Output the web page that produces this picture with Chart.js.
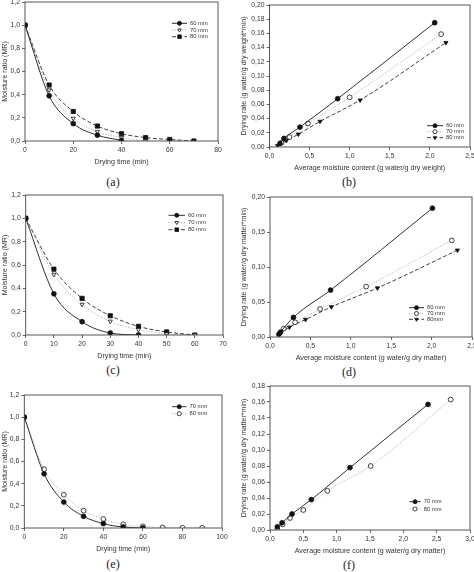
<!DOCTYPE html>
<html>
<head>
<meta charset="utf-8">
<script src="https://cdn.jsdelivr.net/npm/chart.js@4.4.1/dist/chart.umd.min.js"></script>
<style>
  html, body { margin: 0; padding: 0; background: #fff; width: 474px; height: 572px; overflow: hidden; position: relative; }
  canvas { position: absolute; }
  .cap { position: absolute; font: 12px "Liberation Serif", serif; color: #222; transform: translate(-50%, -50%); }
</style>
</head>
<body>
<div class="cap" style="left:113px;top:182px">(a)</div>
<div class="cap" style="left:349px;top:182px">(b)</div>
<div class="cap" style="left:113px;top:370px">(c)</div>
<div class="cap" style="left:349px;top:372px">(d)</div>
<div class="cap" style="left:113px;top:564px">(e)</div>
<div class="cap" style="left:349px;top:565px">(f)</div>
<script>
"use strict";
// (a) moisture ratio vs drying time
const timeA = [0, 10, 20, 30, 40, 50, 60, 70];
const mrA60 = [1.0, 0.39, 0.15, 0.05, 0.005];
const mrA70 = [1.0, 0.44, 0.195, 0.08, 0.03, 0.0];
const mrA80 = [1.0, 0.483, 0.255, 0.129, 0.063, 0.029, 0.013, 0.0];

// (c)
const timeC = [0, 10, 20, 30, 40, 50, 60];
const mrC60 = [1.0, 0.353, 0.114, 0.017, 0.0];
const mrC70 = [1.0, 0.519, 0.262, 0.117, 0.046, 0.009, 0.0];
const mrC80 = [1.0, 0.564, 0.314, 0.165, 0.074, 0.026, 0.0];

// (e)
const timeE = [0, 10, 20, 30, 40, 50, 60, 70, 80, 90];
const mrE70 = [1.0, 0.489, 0.234, 0.105, 0.039, 0.009, 0.0];
const mrE80 = [1.0, 0.53, 0.30, 0.156, 0.081, 0.033, 0.015, 0.005, 0.002, 0.002];

// (b) drying rate vs average moisture content
const mcB60 = [0.13, 0.18, 0.38, 0.85, 2.06];
const rateB60 = [0.005, 0.012, 0.028, 0.068, 0.175];
const mcB70 = [0.15, 0.25, 0.48, 1.0, 2.14];
const rateB70 = [0.006, 0.014, 0.033, 0.070, 0.159];
const mcB80 = [0.10, 0.21, 0.36, 0.63, 1.13, 2.20];
const rateB80 = [0.002, 0.009, 0.018, 0.036, 0.066, 0.147];

// (d)
const mcD60 = [0.11, 0.13, 0.29, 0.75, 2.01];
const rateD60 = [0.004, 0.007, 0.028, 0.067, 0.184];
const mcD70 = [0.17, 0.31, 0.62, 1.19, 2.25];
const rateD70 = [0.012, 0.021, 0.040, 0.072, 0.138];
const mcD80 = [0.13, 0.24, 0.44, 0.76, 1.33, 2.32];
const rateD80 = [0.005, 0.014, 0.025, 0.043, 0.070, 0.124];

// (f)
const mcF70 = [0.11, 0.18, 0.33, 0.62, 1.20, 2.37];
const rateF70 = [0.004, 0.009, 0.020, 0.038, 0.078, 0.157];
const mcF80 = [0.11, 0.19, 0.30, 0.50, 0.86, 1.51, 2.71];
const rateF80 = [0.001, 0.007, 0.015, 0.025, 0.049, 0.080, 0.163];

// tick labels
const ticksTimeA = [0, 20, 40, 60, 80];
const ticksTimeC = [0, 10, 20, 30, 40, 50, 60, 70];
const ticksTimeE = [0, 20, 40, 60, 80, 100];
const ticksMR = [0, 0.2, 0.4, 0.6, 0.8, 1.0, 1.2];
const ticksMC25 = [0, 0.5, 1.0, 1.5, 2.0, 2.5];
const ticksMC30 = [0, 0.5, 1.0, 1.5, 2.0, 2.5, 3.0];
const ticksRateB = [0, 0.02, 0.04, 0.06, 0.08, 0.10, 0.12, 0.14, 0.16, 0.18, 0.20];
const ticksRateD = [0, 0.05, 0.10, 0.15, 0.20];
const ticksRateF = [0, 0.02, 0.04, 0.06, 0.08, 0.10, 0.12, 0.14, 0.16, 0.18];

const FONT = "'Liberation Sans', Arial, sans-serif";
const INK = "#333";

// line looks
const SOLID = { color: "#1a1a1a", dash: [] };
const DOT = { color: "#a0a0a0", dash: [1, 1.6] };
const DASH = { color: "#2a2a2a", dash: [4, 2.2] };

function pts(xs, ys) {
  return ys.map((y, i) => ({ x: xs[i], y: y }));
}

function series(label, data, line, marker, filled) {
  const r = marker === "rect" ? 3 : 2.4;
  return {
    label: label,
    data: data,
    showLine: true,
    borderColor: line.color,
    borderDash: line.dash,
    borderWidth: 0.9,
    cubicInterpolationMode: "monotone",
    pointStyle: marker === "down" ? "triangle" : marker,
    rotation: marker === "down" ? 180 : 0,
    pointRadius: r,
    pointBorderWidth: 0.8,
    pointBorderColor: "#111",
    pointBackgroundColor: filled ? "#111" : "#fff",
  };
}

// frame round the plot + the little legend inside
const panelDeco = {
  id: "panelDeco",
  afterDraw(chart, args, opts) {
    const { ctx, chartArea: a } = chart;
    ctx.save();
    ctx.strokeStyle = "#444";
    ctx.lineWidth = 0.9;
    ctx.strokeRect(a.left, a.top, a.right - a.left, a.bottom - a.top);

    const lg = opts.legend;
    chart.data.datasets.forEach((ds, i) => {
      const y = lg.y + i * lg.dy;
      ctx.strokeStyle = ds.borderColor;
      ctx.lineWidth = ds.borderWidth;
      ctx.setLineDash(ds.borderDash);
      ctx.beginPath();
      ctx.moveTo(lg.x, y);
      ctx.lineTo(lg.x + lg.len, y);
      ctx.stroke();
      ctx.setLineDash([]);
      ctx.fillStyle = ds.pointBackgroundColor;
      ctx.strokeStyle = ds.pointBorderColor;
      ctx.lineWidth = ds.pointBorderWidth;
      Chart.helpers.drawPoint(ctx, {
        pointStyle: ds.pointStyle,
        rotation: ds.rotation,
        radius: ds.pointRadius * 0.85,
        borderWidth: ds.pointBorderWidth,
      }, lg.x + lg.len / 2, y);
      ctx.fillStyle = INK;
      ctx.font = "5.8px " + FONT;
      ctx.textBaseline = "middle";
      ctx.textAlign = "left";
      ctx.fillText(ds.label, lg.x + lg.len + 3, y);
    });
    ctx.restore();
  },
};

function fmt(dec) {
  return (v) => Number(v).toFixed(dec).replace(".", ",");
}

function axis(ticks, dec, title, fixed, titlePad) {
  return {
    type: "linear",
    min: ticks[0],
    max: ticks[ticks.length - 1],
    afterBuildTicks: (s) => { s.ticks = ticks.map((v) => ({ value: v })); },
    afterFit: fixed,
    border: { display: false },
    grid: { drawOnChartArea: false, drawTicks: true, tickLength: 3, color: "#444", lineWidth: 0.8 },
    ticks: { color: INK, font: { family: FONT, size: 6.8 }, padding: 2, maxRotation: 0, autoSkip: false, callback: fmt(dec) },
    title: { display: true, text: title, color: INK, font: { family: FONT, size: 7.1 }, padding: { top: titlePad, bottom: 0 } },
  };
}

function makePanel(p) {
  const left = p.col === 0 ? 0 : 237;
  const top = Math.round(p.plot.t) - 12;
  const w = Math.round(p.plot.r - left + 12);
  const h = Math.round(p.plot.b - p.plot.t) + 12 + 25;
  const yW = p.plot.l - left;

  const cv = document.createElement("canvas");
  cv.style.left = left + "px";
  cv.style.top = top + "px";
  cv.style.width = w + "px";
  cv.style.height = h + "px";
  cv.width = w;
  cv.height = h;
  document.body.appendChild(cv);

  const shift = (lg) => ({ x: lg.x - left, y: lg.y - top, dy: lg.dy, len: lg.len });

  return new Chart(cv, {
    type: "scatter",
    data: { datasets: p.datasets },
    options: {
      responsive: false,
      animation: false,
      layout: { padding: { top: 12, right: 12, left: 0, bottom: 0 } },
      scales: {
        x: axis(p.xTicks, p.xDec, p.xTitle, (s) => { s.height = 25; }, 0),
        y: axis(p.yTicks, p.yDec, p.yTitle, (s) => { s.width = yW; }, p.col === 0 ? 0.6 : 3),
      },
      plugins: {
        legend: { display: false },
        tooltip: { enabled: false },
        panelDeco: { legend: shift(p.legend) },
      },
    },
    plugins: [panelDeco],
  });
}

const mmLabels = ["60 mm", "70 mm", "80 mm"];
const timeTitle = "Drying time (min)";
const mrTitle = "Moisture ratio (MR)";

// (a)
makePanel({
  col: 0, plot: { l: 25, t: 2, r: 218, b: 141 },
  xTicks: ticksTimeA, xDec: 0, yTicks: ticksMR, yDec: 1,
  xTitle: timeTitle, yTitle: mrTitle,
  legend: { x: 172, y: 23.3, dy: 6.7, len: 15 },
  datasets: [
    series(mmLabels[0], pts(timeA, mrA60), SOLID, "circle", true),
    series(mmLabels[1], pts(timeA, mrA70), DOT, "down", false),
    series(mmLabels[2], pts(timeA, mrA80), DASH, "rect", true),
  ],
});

// (b)
makePanel({
  col: 1, plot: { l: 269.5, t: 5, r: 469.5, b: 147 },
  xTicks: ticksMC25, xDec: 1, yTicks: ticksRateB, yDec: 2,
  xTitle: "Average moisture content (g water/g dry weight)",
  yTitle: "Drying rate (g water/g dry weight*min)",
  legend: { x: 427, y: 125.7, dy: 6, len: 16 },
  datasets: [
    series(mmLabels[0], pts(mcB60, rateB60), SOLID, "circle", true),
    series(mmLabels[1], pts(mcB70, rateB70), DOT, "circle", false),
    series(mmLabels[2], pts(mcB80, rateB80), DASH, "down", true),
  ],
});

// (c)
makePanel({
  col: 0, plot: { l: 25.7, t: 195, r: 222.7, b: 335 },
  xTicks: ticksTimeC, xDec: 0, yTicks: ticksMR, yDec: 1,
  xTitle: timeTitle, yTitle: mrTitle,
  legend: { x: 168.5, y: 215.3, dy: 7.2, len: 16.5 },
  datasets: [
    series(mmLabels[0], pts(timeC, mrC60), SOLID, "circle", true),
    series(mmLabels[1], pts(timeC, mrC70), DOT, "down", false),
    series(mmLabels[2], pts(timeC, mrC80), DASH, "rect", true),
  ],
});

// (d)
makePanel({
  col: 1, plot: { l: 270, t: 197, r: 472.3, b: 337 },
  xTicks: ticksMC25, xDec: 1, yTicks: ticksRateD, yDec: 2,
  xTitle: "Average moisture content (g water/g dry matter)",
  yTitle: "Drying rate (g water/g dry matter*min)",
  legend: { x: 409, y: 307.7, dy: 5.8, len: 15 },
  datasets: [
    series(mmLabels[0], pts(mcD60, rateD60), SOLID, "circle", true),
    series(mmLabels[1], pts(mcD70, rateD70), DOT, "circle", false),
    series("80mm", pts(mcD80, rateD80), DASH, "down", true),
  ],
});

// (e)
makePanel({
  col: 0, plot: { l: 24.3, t: 395, r: 221.7, b: 528 },
  xTicks: ticksTimeE, xDec: 0, yTicks: ticksMR, yDec: 1,
  xTitle: timeTitle, yTitle: mrTitle,
  legend: { x: 172, y: 406.7, dy: 7, len: 14.5 },
  datasets: [
    series(mmLabels[1], pts(timeE, mrE70), SOLID, "circle", true),
    series(mmLabels[2], pts(timeE, mrE80), DOT, "circle", false),
  ],
});

// (f)
makePanel({
  col: 1, plot: { l: 270, t: 386, r: 470, b: 530 },
  xTicks: ticksMC30, xDec: 1, yTicks: ticksRateF, yDec: 2,
  xTitle: "Average moisture content (g water/g dry matter)",
  yTitle: "Drying rate (g water/g dry matter*min)",
  legend: { x: 409.3, y: 501.7, dy: 7.3, len: 11.5 },
  datasets: [
    series(mmLabels[1], pts(mcF70, rateF70), SOLID, "circle", true),
    series(mmLabels[2], pts(mcF80, rateF80), DOT, "circle", false),
  ],
});
</script>
</body>
</html>
